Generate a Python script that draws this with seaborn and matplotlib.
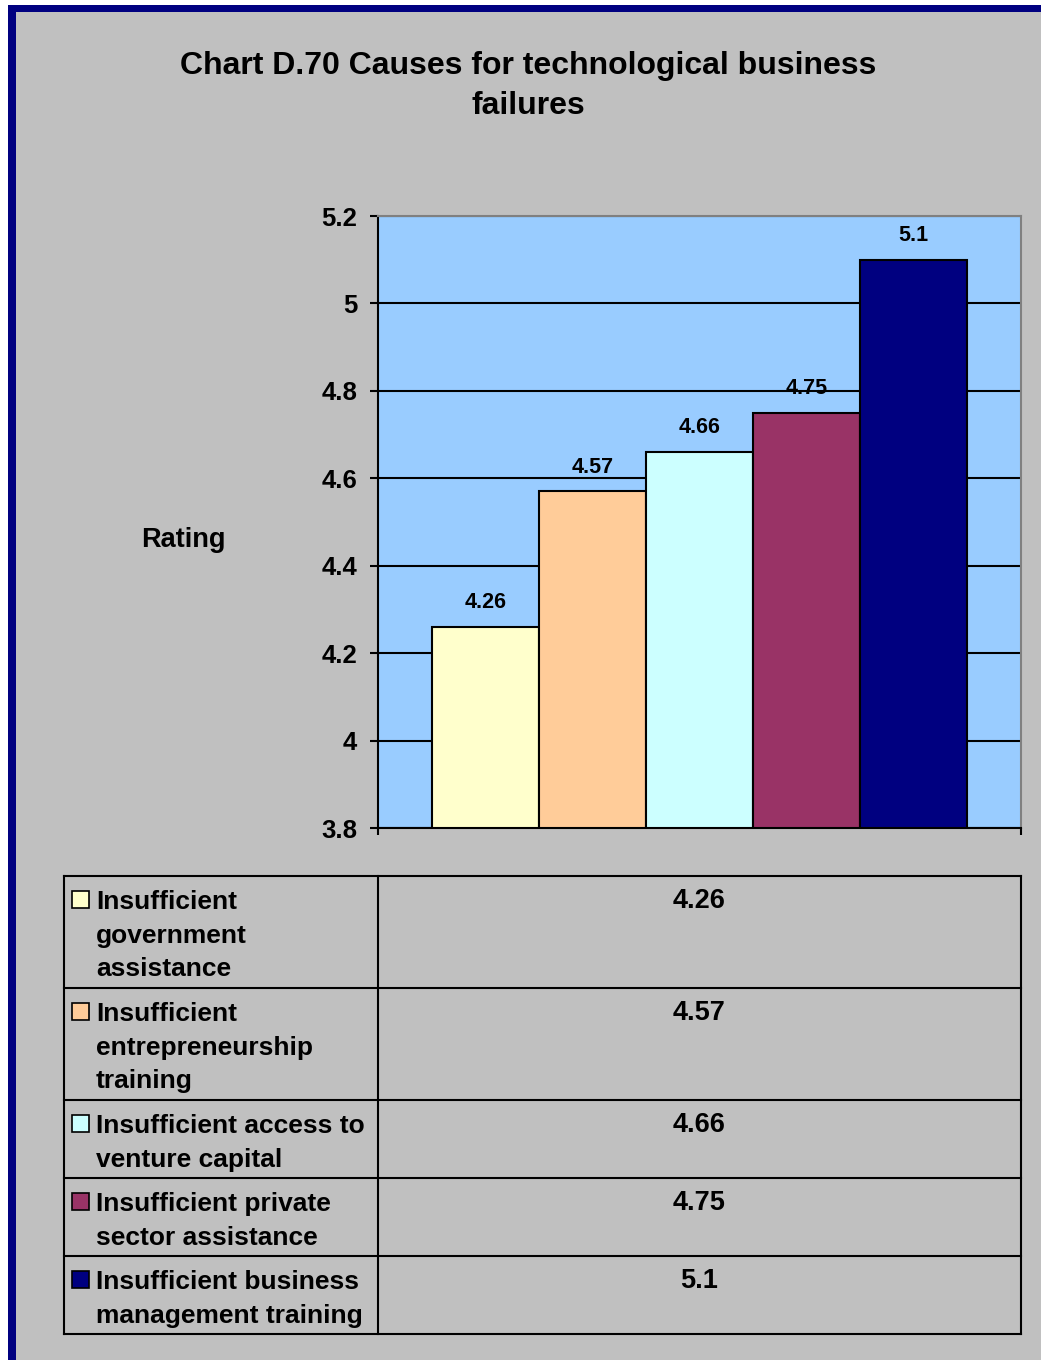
import matplotlib.pyplot as plt
import matplotlib.ticker as ticker
from matplotlib.patches import Rectangle
import seaborn as sns

# chart data
causes = [
    "Insufficient government assistance",
    "Insufficient entrepreneurship training",
    "Insufficient access to venture capital",
    "Insufficient private sector assistance",
    "Insufficient business management training",
]
table_labels = [
    "Insufficient\ngovernment\nassistance",
    "Insufficient\nentrepreneurship\ntraining",
    "Insufficient access to\nventure capital",
    "Insufficient private\nsector assistance",
    "Insufficient business\nmanagement training",
]
ratings = [4.26, 4.57, 4.66, 4.75, 5.1]
bar_colors = ["#FFFFCC", "#FFCC99", "#CCFFFF", "#993366", "#000080"]
y_ticks = [3.8, 4.0, 4.2, 4.4, 4.6, 4.8, 5.0, 5.2]

plt.rcParams['font.family'] = ['Liberation Sans', 'DejaVu Sans']
plt.rcParams['font.weight'] = 'bold'

W, H = 1041, 1360
fig = plt.figure(figsize=(W / 100, H / 100), dpi=100, facecolor='white')

# page background with navy frame on left / top
bg = fig.add_axes([0, 0, 1, 1], zorder=-10)
bg.set_xlim(0, W)
bg.set_ylim(H, 0)
bg.axis('off')
bg.add_patch(Rectangle((8, 5), W, H, color='#000080', lw=0))
bg.add_patch(Rectangle((16, 12), W, H, color='#C0C0C0', lw=0))

fig.text(528 / W, 1 - 66 / H, "Chart D.70 Causes for technological business",
         ha='center', va='center', fontsize=23, fontweight='bold')
fig.text(528 / W, 1 - 106 / H, "failures",
         ha='center', va='center', fontsize=23, fontweight='bold')

# bar chart
ax = fig.add_axes([378 / W, 1 - 828 / H, 643 / W, 612 / H])
ax.set_facecolor('#99CCFF')
sns.barplot(x=causes, y=ratings, hue=causes, palette=bar_colors, dodge=False,
            saturation=1, width=1.0, edgecolor='black', linewidth=1.5,
            legend=False, ax=ax)
ax.set_xlim(-1, 5)
ax.set_ylim(3.8, 5.2)
ax.set_yticks(y_ticks)
ax.yaxis.set_major_formatter(ticker.FuncFormatter(lambda v, p: f"{v:g}"))
ax.set_xticks([-1, 5])
ax.set_xticklabels([])
ax.tick_params(axis='y', direction='out', length=6, width=1.5, pad=9,
               labelsize=18.5, color='black')
ax.tick_params(axis='x', direction='out', length=5, width=1.5)
ax.yaxis.grid(True, color='black', lw=1.5)
ax.set_axisbelow(True)
for s in ['left', 'bottom']:
    ax.spines[s].set_color('black')
    ax.spines[s].set_linewidth(1.5)
for s in ['top', 'right']:
    ax.spines[s].set_color('#808080')
    ax.spines[s].set_linewidth(1.5)
for lbl in ax.get_yticklabels():
    lbl.set_fontweight('bold')

for cont in ax.containers:
    ax.bar_label(cont, fmt='{:g}', padding=10, fontsize=15.5, fontweight='bold')

ax.set_ylabel("Rating", rotation=0, fontsize=19.5, fontweight='bold',
              ha='center', va='center')
ax.yaxis.set_label_coords((183 - 378) / 643, (828 - 540) / 612)
ax.set_xlabel("")

# data table under the chart
tab = fig.add_axes([0, 0, 1, 1], zorder=5)
tab.set_xlim(0, W)
tab.set_ylim(H, 0)
tab.axis('off')
tab.patch.set_alpha(0)

x0, xm, x1 = 64, 378, 1021
top = 876
line_h = 34
tab.plot([x0, x1], [top, top], color='black', lw=1.5)
for lab, val, col in zip(table_labels, ratings, bar_colors):
    n = lab.count("\n") + 1
    bottom = top + line_h * n + 10
    tab.add_patch(Rectangle((72, top + 15), 17, 17, facecolor=col,
                            edgecolor='black', lw=1.2))
    tab.text(96, top + 14, lab, ha='left', va='top', fontsize=19,
             fontweight='bold', linespacing=1.51)
    tab.text((xm + x1) / 2, top + 25, f"{val:g}", ha='center', va='center',
             fontsize=19.5, fontweight='bold')
    tab.plot([x0, x1], [bottom, bottom], color='black', lw=1.5)
    top = bottom
tab.plot([x0, x0], [876, top], color='black', lw=1.5)
tab.plot([xm, xm], [876, top], color='black', lw=1.5)
tab.plot([x1, x1], [876, top], color='black', lw=1.5)

fig.savefig("out.png", dpi=100, facecolor=fig.get_facecolor())
